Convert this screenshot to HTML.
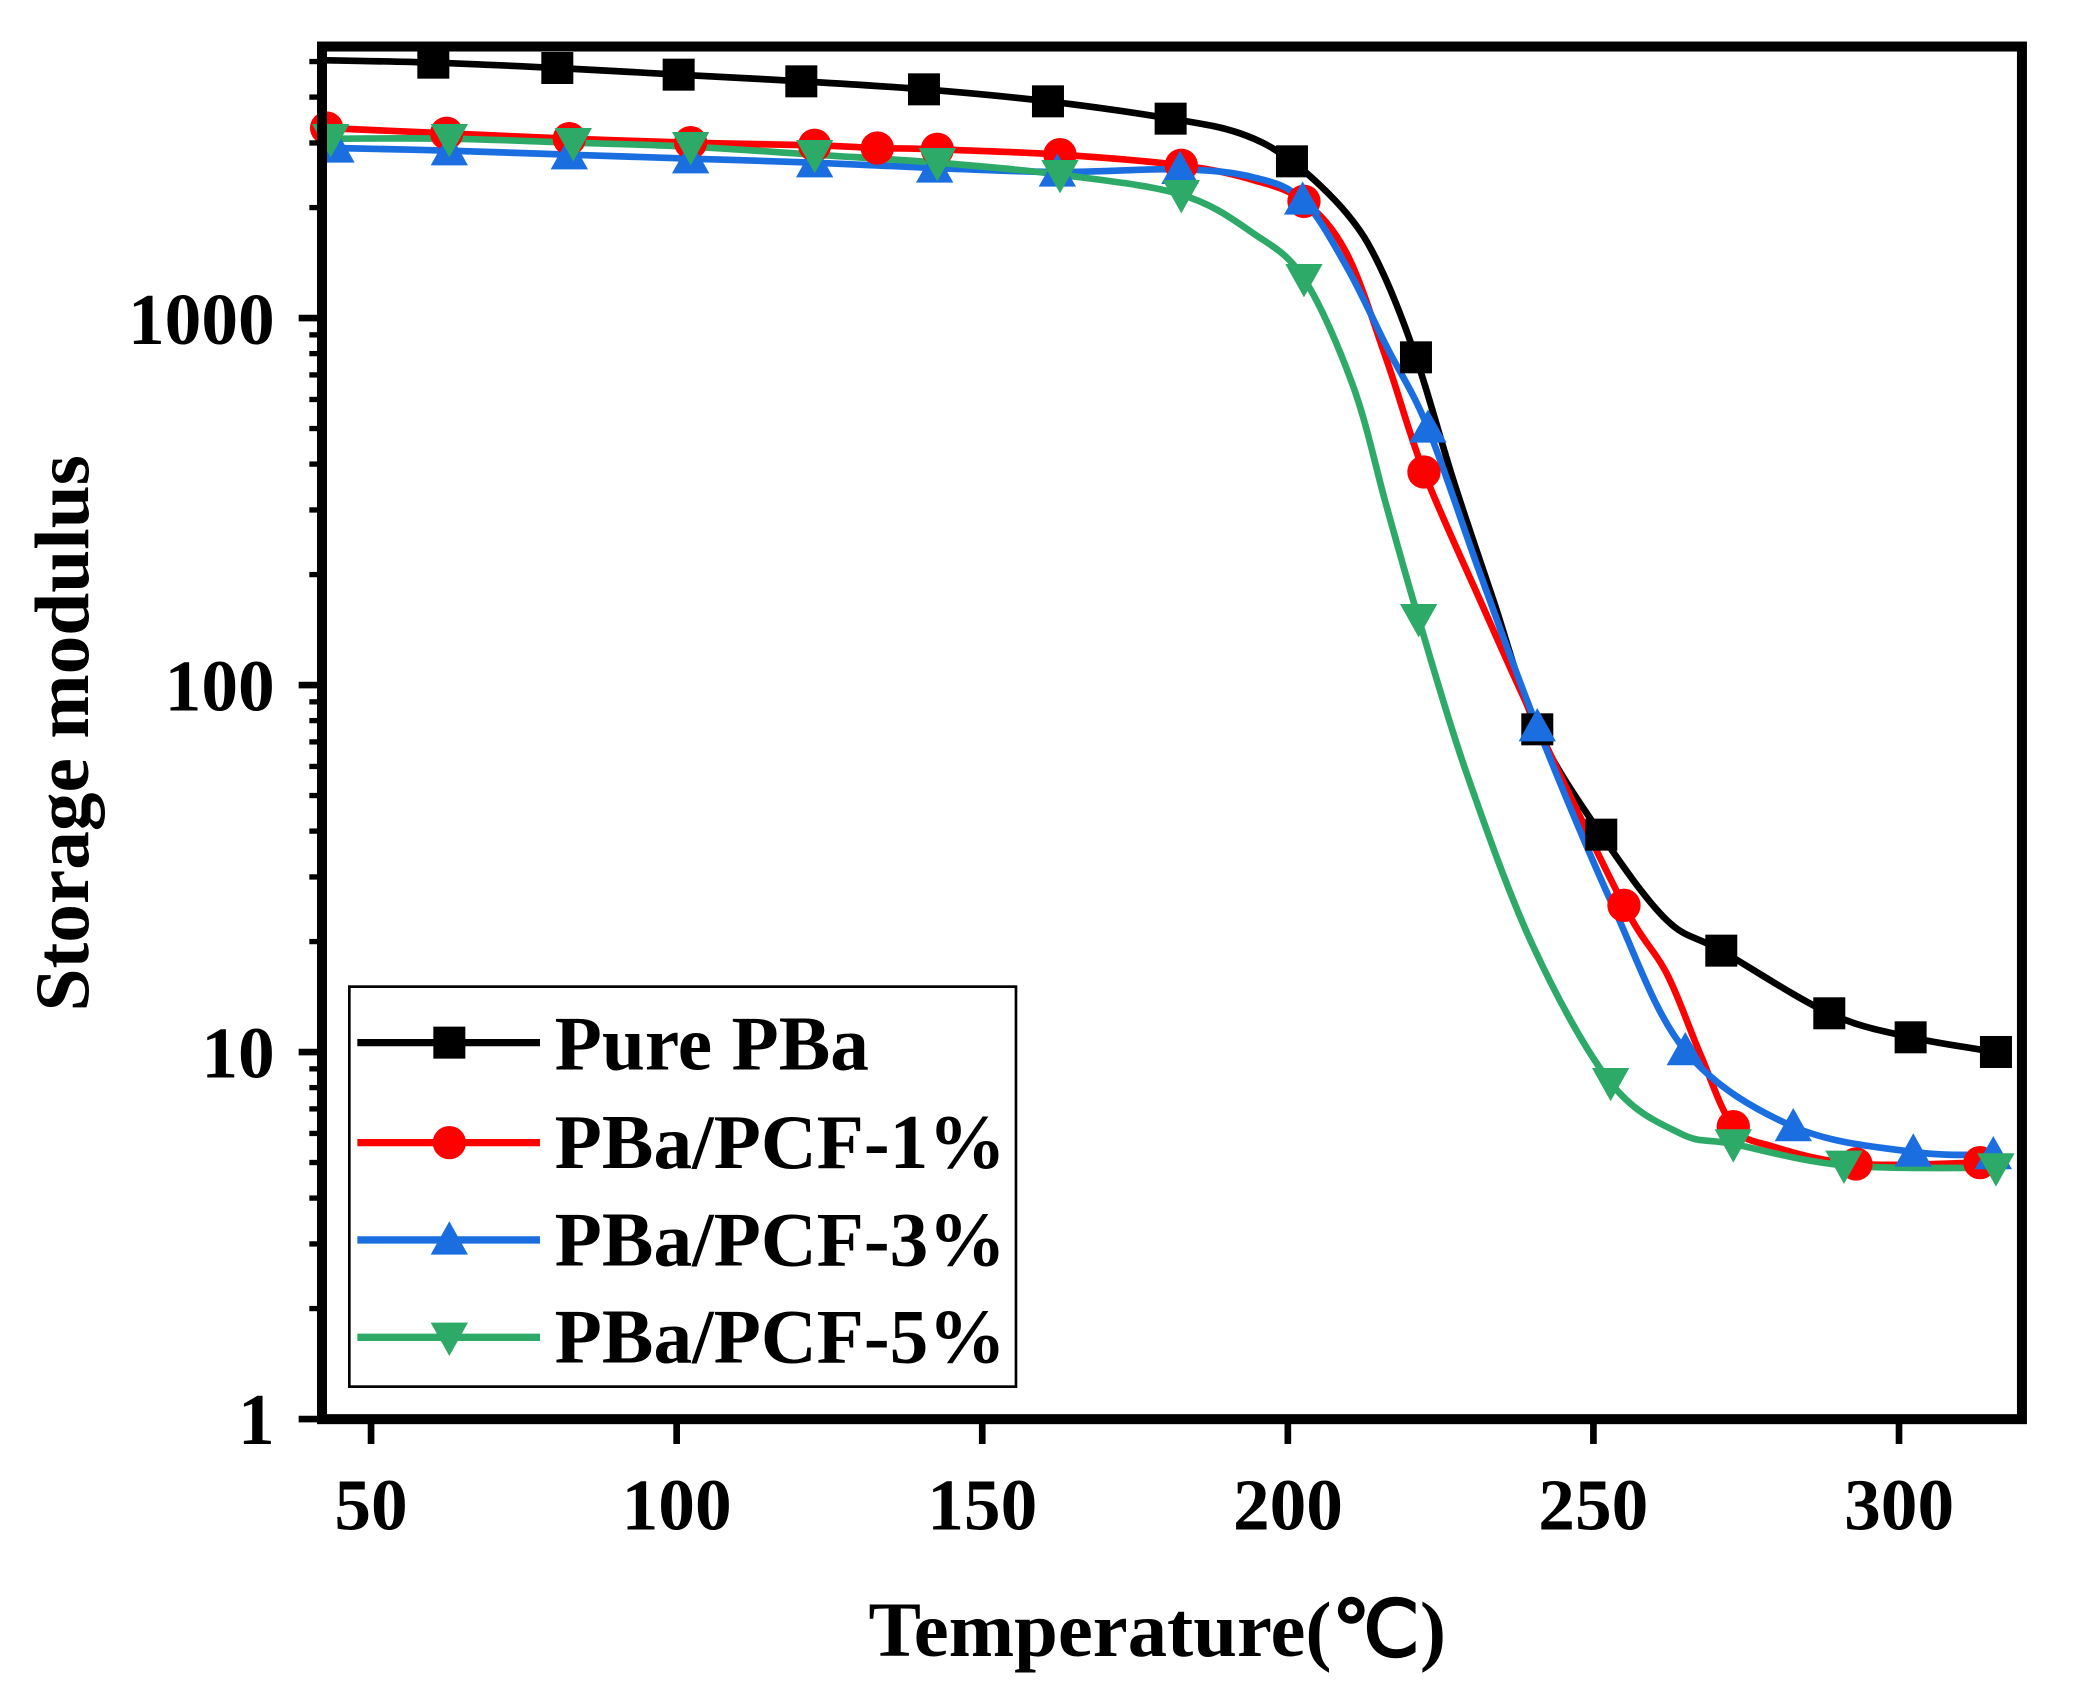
<!DOCTYPE html>
<html><head><meta charset="utf-8"><style>
html,body{margin:0;padding:0;background:#fff}
svg{display:block}
text{font-family:"Liberation Serif",serif;font-weight:bold;fill:#000}
</style></head><body>
<svg id="s" width="2084" height="1704" viewBox="0 0 2084 1704" xmlns="http://www.w3.org/2000/svg">
<rect width="2084" height="1704" fill="#fff"/>
<g id="g" transform="scale(1.3333)">
<defs><clipPath id="c"><rect x="241" y="35" width="1276" height="1030"/></clipPath></defs>
<g id="lines" clip-path="url(#c)"></g>
<g id="marks"></g>
<g id="axes"></g>
<rect x="241.5" y="34.9" width="1275" height="1029.5" fill="none" stroke="#000" stroke-width="7.5"/>
<g font-size="55" text-anchor="middle">
<text x="278.3" y="1147">50</text><text x="507.5" y="1147">100</text><text x="736.7" y="1147">150</text>
<text x="966" y="1147">200</text><text x="1195" y="1147">250</text><text x="1424.4" y="1147">300</text>
</g>
<g font-size="55" text-anchor="end">
<text x="206" y="1083">1</text><text x="206" y="808">10</text><text x="206" y="533">100</text><text x="206" y="258">1000</text>
</g>
<text x="868" y="1242" font-size="59" text-anchor="middle">Temperature(℃)</text>
<text transform="translate(66,550) rotate(-90)" font-size="58" text-anchor="middle">Storage modulus</text>
<rect x="262" y="740" width="500" height="300" fill="#fff" stroke="#000" stroke-width="2"/>
<g id="leg"></g>
<g font-size="58">
<text x="416" y="802">Pure PBa</text><text x="416" y="876">PBa/PCF-1%</text>
<text x="416" y="949">PBa/PCF-3%</text><text x="416" y="1022">PBa/PCF-5%</text>
</g>
</g>
</svg>
<script>
var NS="http://www.w3.org/2000/svg";
function el(t,a,p){var e=document.createElementNS(NS,t);for(var k in a)e.setAttribute(k,a[k]);p.appendChild(e);return e;}
function cr(p){var d="M"+p[0][0]+","+p[0][1];for(var i=0;i<p.length-1;i++){var p0=p[i-1]||p[i],p1=p[i],p2=p[i+1],p3=p[i+2]||p2;
d+=" C"+(p1[0]+(p2[0]-p0[0])/6)+","+(p1[1]+(p2[1]-p0[1])/6)+" "+(p2[0]-(p3[0]-p1[0])/6)+","+(p2[1]-(p3[1]-p1[1])/6)+" "+p2[0]+","+p2[1];}return d;}
var S=[
{c:"#000",m:"sq",l:[[233,45],[325,47],[418,51],[509,56],[601,61],[693,67],[786,76],[878,89],[930,100],[969,121],[1010,160],[1035,200],[1062,268],[1090,360],[1120,450],[1153,547],[1201,626],[1250,690],[1291,713],[1372,760],[1433,778],[1497,789]],
k:[[325,47],[418,51],[509,56],[601,61],[693,67],[786,76],[878,89],[969,121],[1062,268],[1153,547],[1201,626],[1291,713],[1372,760],[1433,778],[1497,789]]},
{c:"#ff0000",m:"ci",l:[[233,95],[245,96],[335,100],[427,104],[518,107],[611,109],[658,111],[703,112],[795,116],[886,124],[940,135],[978,151],[1010,190],[1040,270],[1068,354],[1110,450],[1153,545],[1218,679],[1250,730],[1275,790],[1300,845],[1330,860],[1392,873],[1485,872]],
k:[[245,96],[335,100],[427,104],[518,107],[611,109],[658,111],[703,112],[795,116],[886,124],[978,151],[1068,354],[1218,679],[1300,845],[1392,873],[1485,872]]},
{c:"#1a6ee0",m:"up",l:[[233,110],[252,111],[337,113],[427,116],[518,119],[611,122],[701,126],[793,129],[885,127],[940,133],[977,150],[1010,200],[1040,260],[1071,321],[1110,430],[1153,545],[1210,680],[1264,788],[1345,845],[1435,864],[1495,866]],
k:[[252,111],[337,113],[427,116],[518,119],[611,122],[701,126],[793,129],[885,127],[977,150],[1071,321],[1153,545],[1264,788],[1345,845],[1435,864],[1495,866]]},
{c:"#2eaa68",m:"dn",l:[[233,104],[248,104],[337,104],[430,107],[518,110],[611,116],[703,122],[795,131],[886,146],[940,175],[978,209],[1015,290],[1040,380],[1064,464],[1100,580],[1150,710],[1208,812],[1260,850],[1300,858],[1383,874],[1497,876]],
k:[[248,104],[337,104],[430,107],[518,110],[611,116],[703,122],[795,131],[886,146],[978,209],[1064,464],[1208,812],[1300,858],[1383,874],[1497,876]]}];
var L=document.getElementById("lines"),M=document.getElementById("marks"),G=document.getElementById("leg");
function mk(t,x,y,c,p){if(t=="sq")el("rect",{x:x-12,y:y-12,width:24,height:24,fill:c},p);
else if(t=="ci")el("circle",{cx:x,cy:y,r:12.5,fill:c},p);
else if(t=="up")el("polygon",{points:(x-14)+","+(y+11)+" "+(x+14)+","+(y+11)+" "+x+","+(y-14),fill:c},p);
else el("polygon",{points:(x-14)+","+(y-11)+" "+(x+14)+","+(y-11)+" "+x+","+(y+14),fill:c},p);}
var ly=[782,857,930,1003];
S.forEach(function(s,i){el("path",{d:cr(s.l),fill:"none",stroke:s.c,"stroke-width":5,"stroke-linejoin":"round"},L);
s.k.forEach(function(p){mk(s.m,p[0],p[1],s.c,M);});
el("line",{x1:268,x2:405,y1:ly[i],y2:ly[i],stroke:s.c,"stroke-width":5.5},G);mk(s.m,337,ly[i],s.c,G);});
var A=document.getElementById("axes");
for(var t=50;t<=300;t+=50){var x=278.3+(t-50)*4.584;el("line",{x1:x,x2:x,y1:1064,y2:1083,stroke:"#000","stroke-width":5},A);}
for(var d=0;d<4;d++){for(var m=1;m<10;m++){if(d==3&&m>5)break;var y=1064.3-(d+Math.log10(m))*275.25;
el("line",{x1:m==1?224:232,x2:242,y1:y,y2:y,stroke:"#000","stroke-width":m==1?5:4},A);}}
</script>
</body></html>
